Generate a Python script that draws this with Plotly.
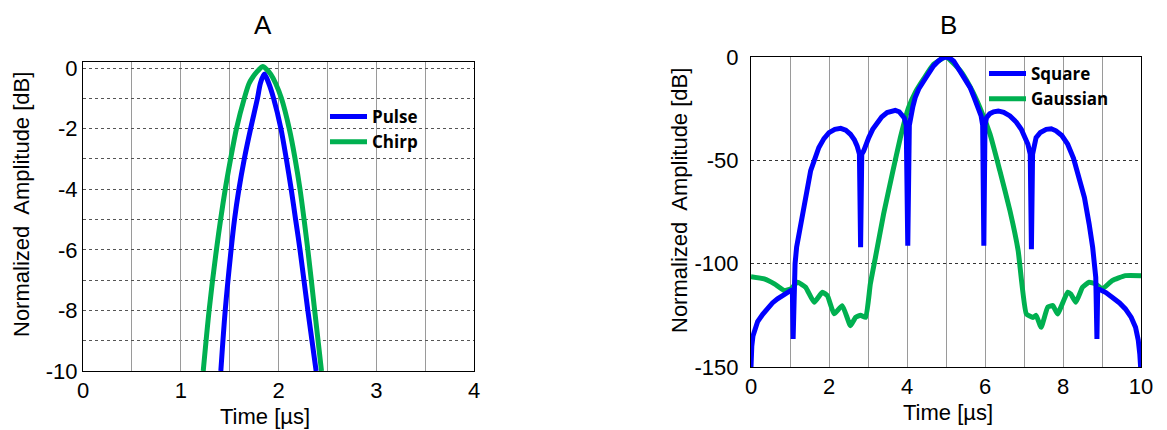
import plotly.graph_objects as go

# ---------------- Panel A data ----------------
pulse_t = [1.41, 1.455, 1.515, 1.55, 1.595, 1.65, 1.715, 1.785, 1.815, 1.855, 1.90, 1.95, 2.025, 2.08, 2.13, 2.175, 2.22, 2.30, 2.385]
pulse_db = [-10, -8, -6, -5, -4, -3, -2, -1, -0.5, -0.2, -0.5, -1, -2, -3, -4, -5, -6, -8, -10]

chirp_t = [1.23, 1.29, 1.365, 1.455, 1.51, 1.57, 1.65, 1.70, 1.76, 1.80, 1.84, 1.88, 1.92, 1.97, 2.03, 2.11, 2.17, 2.22, 2.30, 2.37, 2.44]
chirp_db = [-10, -8, -6, -4, -3, -2, -1, -0.5, -0.2, -0.05, 0.05, -0.05, -0.2, -0.5, -1, -2, -3, -4, -6, -8, -10]

# ---------------- Panel B data ----------------
square_t = [0.00, 0.005, 0.02, 0.05, 0.10, 0.17, 0.30, 0.43, 0.55, 0.68, 0.83, 0.98, 1.06, 1.08, 1.10,
            1.13, 1.17, 1.23, 1.36, 1.53, 1.74, 1.87, 2.00, 2.15, 2.30, 2.43, 2.55, 2.65, 2.72, 2.78,
            2.81, 2.84, 2.89, 2.95, 3.02, 3.12, 3.23, 3.35, 3.49, 3.60, 3.70, 3.80, 3.87, 3.93, 3.98,
            4.02, 4.06, 4.09, 4.15, 4.21, 4.30, 4.43, 4.55, 4.68, 4.80, 4.90, 5.00, 5.10, 5.20, 5.36,
            5.47, 5.62, 5.72, 5.83, 5.90, 5.94, 5.97, 6.00, 6.04, 6.12, 6.22, 6.34, 6.48, 6.64, 6.80,
            6.93, 7.03, 7.10, 7.16, 7.19, 7.22, 7.26, 7.31, 7.42, 7.57, 7.70, 7.82, 7.97, 8.12, 8.27,
            8.42, 8.55, 8.67, 8.76, 8.84, 8.87, 8.89, 8.92, 9.10, 9.26, 9.45, 9.60, 9.75, 9.86, 9.93,
            9.97, 9.99]
square_db = [-150, -145, -140, -135, -131, -128, -124.5, -121.5, -119, -117, -115, -113.4, -112.5, -136.4, -110,
             -100, -92, -85.7, -69.6, -55, -43.8, -39.5, -36.6, -35, -34.5, -35.4, -37.4, -40, -43, -47,
             -92, -47, -45.4, -42, -39, -35, -31.7, -29, -26.9, -26, -25.8, -26.5, -27.7, -29.5, -33,
             -91.3, -33, -29.3, -24, -19.6, -15.5, -11.6, -7.5, -4.3, -2, -0.6, 0, -0.6, -2, -6.8,
             -10.5, -14.8, -19.5, -24.5, -28.5, -33, -91.3, -33, -29.3, -27.5, -26.5, -26.1, -26.8, -28.5, -31.5,
             -35, -38.5, -42.2, -47, -93, -47, -42, -39, -36.5, -35, -34.7, -35.7, -38, -42.2, -49,
             -58.3, -68, -80.8, -92, -106.6, -136.4, -112, -112.2, -114, -116.3, -119, -121.9, -126, -130.8, -137,
             -144, -150]

gauss_t = [0.00, 0.34, 0.60, 0.85, 1.02, 1.19, 1.40, 1.62, 1.83, 1.96, 2.13, 2.34, 2.55, 2.68, 2.81, 2.94,
           3.06, 3.19, 3.40, 3.62, 3.83, 4.04, 4.21, 4.43, 4.68, 5.00, 5.36, 5.62, 5.87, 6.13, 6.38, 6.64,
           6.85, 7.06, 7.23, 7.31, 7.44, 7.61, 7.74, 7.86, 8.12, 8.20, 8.33, 8.50, 8.67, 8.84, 9.01, 9.26,
           9.60, 10.0]
gauss_db = [-106.3, -107.4, -109.8, -113, -112.2, -109, -111.4, -118.7, -113.8, -115.5, -124.3, -120.3, -130, -126, -125, -126,
            -109.8, -97, -76, -56.7, -39, -24.5, -17.2, -10.5, -3.6, 0, -6.5, -14.5, -24.5, -37.4, -55, -74.4,
            -93.7, -124.3, -126, -125, -130.8, -121, -120.3, -124.3, -113.8, -114.7, -118.7, -111.4, -109, -109.8, -112.2, -108.2,
            -105.8, -105.8]

ticks_a_x = [0, 1, 2, 3, 4]
ticks_a_y = [-10, -8, -6, -4, -2, 0]
ticks_b_x = [0, 2, 4, 6, 8, 10]
ticks_b_y = [-150, -100, -50, 0]

BLUE = "#0000ff"
GREEN = "#00b050"
W, H = 1167, 430

fig = go.Figure()

# Panel A
fig.add_trace(go.Scatter(x=chirp_t, y=chirp_db, name="Chirp", mode="lines",
                         line=dict(color=GREEN, width=5, shape="spline", smoothing=0.8),
                         xaxis="x", yaxis="y", legend="legend", legendrank=2))
fig.add_trace(go.Scatter(x=pulse_t, y=pulse_db, name="Pulse", mode="lines",
                         line=dict(color=BLUE, width=5, shape="spline", smoothing=0.8),
                         xaxis="x", yaxis="y", legend="legend", legendrank=1))
# Panel B
fig.add_trace(go.Scatter(x=gauss_t, y=gauss_db, name="Gaussian", mode="lines",
                         line=dict(color=GREEN, width=5, shape="spline", smoothing=0.4),
                         xaxis="x2", yaxis="y2", legend="legend2", legendrank=2))
fig.add_trace(go.Scatter(x=square_t, y=square_db, name="Square", mode="lines",
                         line=dict(color=BLUE, width=5),
                         xaxis="x2", yaxis="y2", legend="legend2", legendrank=1))

tick_font = dict(family="Liberation Sans, Arial, sans-serif", size=22, color="black")


def px_x(p):
    return p / W


def px_y(p):
    return 1 - p / H


ax_common = dict(showline=True, linecolor="black", linewidth=1, mirror=True,
                 ticks="", tickfont=tick_font, zeroline=False, automargin=False)

legend_font = dict(family="Open Sans, sans-serif", size=17, color="black", weight="bold")

fig.update_layout(
    width=W, height=H,
    margin=dict(l=0, r=0, t=0, b=0, pad=0, autoexpand=False),
    paper_bgcolor="white", plot_bgcolor="white",
    font=dict(family="Liberation Sans, Arial, sans-serif", color="black"),
    xaxis=dict(domain=[px_x(83), px_x(474)], range=[0, 4],
               tickvals=ticks_a_x, ticktext=[str(v) for v in ticks_a_x],
               showgrid=True, gridcolor="#9a9a9a", gridwidth=1,
               minor=dict(dtick=0.5, showgrid=True, gridcolor="#9a9a9a", gridwidth=1),
               anchor="y", **ax_common),
    yaxis=dict(domain=[px_y(371), px_y(62)], range=[-10, 0.2],
               tickvals=ticks_a_y, ticktext=[str(v) for v in ticks_a_y],
               showgrid=True, gridcolor="#555555", gridwidth=1, griddash="dot",
               minor=dict(dtick=1, showgrid=True, gridcolor="#555555", gridwidth=1, griddash="dot"),
               ticklabelstandoff=0, anchor="x", **ax_common),
    xaxis2=dict(domain=[px_x(751), px_x(1141)], range=[0, 10],
                tickvals=ticks_b_x, ticktext=[str(v) for v in ticks_b_x],
                showgrid=True, gridcolor="#9a9a9a", gridwidth=1,
                minor=dict(dtick=1, showgrid=True, gridcolor="#9a9a9a", gridwidth=1),
                anchor="y2", **ax_common),
    yaxis2=dict(domain=[px_y(367), px_y(57)], range=[-150, 0],
                tickvals=ticks_b_y, ticktext=[str(v) for v in ticks_b_y],
                showgrid=True, gridcolor="#333333", gridwidth=1, griddash="dot",
                ticklabelstandoff=7, anchor="x2", **ax_common),
    legend=dict(x=px_x(325), y=px_y(99), xanchor="left", yanchor="top",
                bgcolor="rgba(0,0,0,0)", borderwidth=0, itemwidth=37,
                font=legend_font, tracegroupgap=0),
    legend2=dict(x=px_x(984), y=px_y(56), xanchor="left", yanchor="top",
                 bgcolor="rgba(0,0,0,0)", borderwidth=0, itemwidth=37,
                 font=legend_font, tracegroupgap=0),
    showlegend=True,
)

title_font = dict(family="Liberation Sans, Arial, sans-serif", size=26, color="black")
axis_title_font = dict(family="Liberation Sans, Arial, sans-serif", size=22, color="black")

annotations = [
    dict(text="A", x=px_x(263), y=px_y(25), font=title_font),
    dict(text="B", x=px_x(948), y=px_y(25), font=title_font),
    dict(text="Time [µs]", x=px_x(265), y=px_y(416), font=axis_title_font),
    dict(text="Time [µs]", x=px_x(948), y=px_y(412), font=axis_title_font),
    dict(text="Normalized\u00a0 Amplitude [dB]", x=px_x(22), y=px_y(205), textangle=-90, font=axis_title_font),
    dict(text="Normalized\u00a0 Amplitude [dB]", x=px_x(680), y=px_y(200), textangle=-90, font=axis_title_font),
]
for a in annotations:
    a.update(xref="paper", yref="paper", showarrow=False, xanchor="center", yanchor="middle")
fig.update_layout(annotations=annotations)

fig.write_html("out.html", config={"displayModeBar": False},
               post_script="document.body.style.margin='0';")
